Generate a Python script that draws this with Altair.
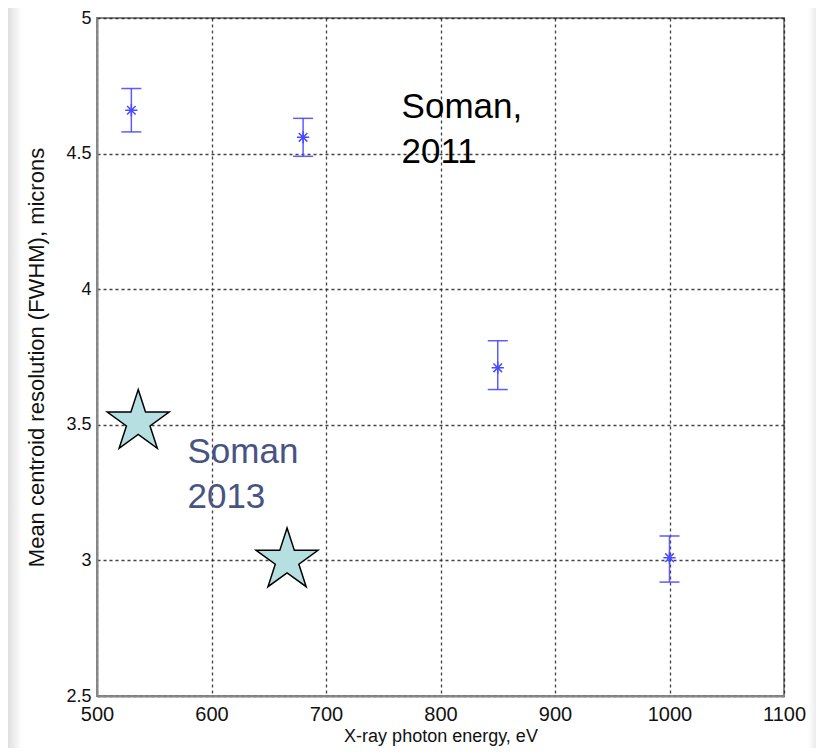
import altair as alt
import pandas as pd

# ---- data ----
energy = [530, 680, 850, 1000]
resolution = [4.66, 4.56, 3.71, 3.01]
err_low = [4.58, 4.49, 3.63, 2.92]
err_high = [4.74, 4.63, 3.81, 3.09]

star_energy = [536, 666]
star_resolution = [3.51, 3.00]

label_text = ["Soman,\n2011", "Soman\n2013"]
label_group = ["2011", "2013"]
label_energy = [766, 579]
label_resolution = [4.63, 3.36]

x_ticks = [500, 600, 700, 800, 900, 1000, 1100]
y_ticks = [2.5, 3, 3.5, 4, 4.5, 5]

FONT = "Liberation Sans, Arial, Helvetica, sans-serif"
BLUE = "#4a4aff"
STAR_PATH = ("M0,-1L0.2245,-0.309L0.951,-0.309L0.363,0.118L0.588,0.809L0,0.382"
             "L-0.588,0.809L-0.363,0.118L-0.951,-0.309L-0.2245,-0.309Z")
ASTERISK_PATH = "M-1,0L1,0M0,-1L0,1M-0.7,-0.7L0.7,0.7M-0.7,0.7L0.7,-0.7"

pts = pd.DataFrame({"energy": energy, "res": resolution, "lo": err_low, "hi": err_high})
stars = pd.DataFrame({"energy": star_energy, "res": star_resolution})
labels = pd.DataFrame({"energy": label_energy, "res": label_resolution,
                       "text": label_text, "group": label_group})

x_scale = alt.Scale(domain=[500, 1100], nice=False, zero=False)
y_scale = alt.Scale(domain=[2.5, 5], nice=False, zero=False)

x_axis = alt.Axis(values=x_ticks, format="d", title="X-ray photon energy, eV", grid=True,
                  ticks=False, labelFontSize=20, labelPadding=8, titleFontSize=18,
                  titlePadding=3, labelFlush=False)
y_axis = alt.Axis(values=y_ticks, format="~g", title="Mean centroid resolution (FWHM), microns",
                  grid=True, ticks=False, labelFontSize=18, labelPadding=6,
                  titleFontSize=22, titlePadding=17, labelFlush=False)

# decorative slide background edges
bg = pd.DataFrame({"a": [0]})
left_band = alt.Chart(bg).mark_rect(
    fill=alt.Gradient(gradient="linear", x1=0, x2=1, y1=0, y2=0,
                      stops=[alt.GradientStop(color="#cdcdcd", offset=0),
                             alt.GradientStop(color="#ffffff", offset=1)])
).encode(x=alt.value(-97), x2=alt.value(-75), y=alt.value(-18), y2=alt.value(740))
right_band = alt.Chart(bg).mark_rect(
    fill=alt.Gradient(gradient="linear", x1=0, x2=1, y1=0, y2=0,
                      stops=[alt.GradientStop(color="#ffffff", offset=0),
                             alt.GradientStop(color="#cfcfcf", offset=1)])
).encode(x=alt.value(711), x2=alt.value(730), y=alt.value(-18), y2=alt.value(740))

base = alt.Chart(pts)
rules = base.mark_rule(color=BLUE, strokeWidth=1.5, opacity=0.9).encode(
    x=alt.X("energy:Q", scale=x_scale, axis=x_axis),
    y=alt.Y("lo:Q", scale=y_scale, axis=y_axis),
    y2="hi:Q",
)
cap_lo = base.mark_tick(color=BLUE, orient="horizontal", size=20, thickness=1.5, opacity=0.9).encode(
    x=alt.X("energy:Q", scale=x_scale), y=alt.Y("lo:Q", scale=y_scale))
cap_hi = base.mark_tick(color=BLUE, orient="horizontal", size=20, thickness=1.5, opacity=0.9).encode(
    x=alt.X("energy:Q", scale=x_scale), y=alt.Y("hi:Q", scale=y_scale))
centers = base.mark_point(shape=ASTERISK_PATH, filled=False, size=150, color=BLUE,
                          strokeWidth=1.5, opacity=1).encode(
    x=alt.X("energy:Q", scale=x_scale), y=alt.Y("res:Q", scale=y_scale))

star_layer = alt.Chart(stars).mark_point(shape=STAR_PATH, filled=True, size=4225,
                                         fill="#b6dfe1", stroke="black", strokeWidth=1.5,
                                         opacity=1, fillOpacity=1).encode(
    x=alt.X("energy:Q", scale=x_scale), y=alt.Y("res:Q", scale=y_scale))

text_layer = alt.Chart(labels).mark_text(
    align="left", baseline="alphabetic", lineBreak="\n", lineHeight=45,
    fontSize=35, font=FONT,
).encode(
    x=alt.X("energy:Q", scale=x_scale), y=alt.Y("res:Q", scale=y_scale),
    text="text:N",
    color=alt.Color("group:N", scale=alt.Scale(domain=["2011", "2013"],
                                               range=["#000000", "#475483"]), legend=None),
)

chart = alt.layer(left_band, right_band, rules, cap_lo, cap_hi, centers, star_layer, text_layer).properties(
    width=687, height=678,
    autosize=alt.AutoSizeParams(type="none"),
    padding={"left": 89, "top": 10, "right": 32, "bottom": 52},
    background="white",
).configure_view(
    stroke="#888888", strokeWidth=2,
).configure_axis(
    domainColor="#888888", domainWidth=2,
    gridColor="#222222", gridDash=[3, 3], gridWidth=1.3, gridOpacity=0.85,
    labelFont=FONT, titleFont=FONT, labelColor="#111111", titleColor="#111111",
    titleFontWeight="normal",
)

chart.save("out.html", embed_options={"renderer": "svg", "actions": False})
